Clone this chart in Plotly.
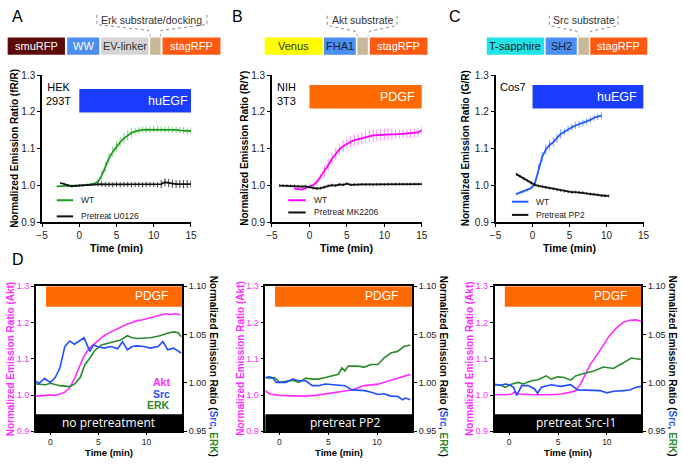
import plotly.graph_objects as go

W, H = 683, 464
def px(x): return x / W
def py(y): return 1 - y / H

FONT = "Liberation Sans, Arial, Helvetica, sans-serif"
BARFONT = "Open Sans, DejaVu Sans, sans-serif"

# ---------------- DATA ----------------
# Panel A (Erk sensor, HEK293T, huEGF)
A_wt_t = [-3, -2.5, -2, -1.5, -1, -0.5, 0, 0.5, 1, 1.5, 2, 2.5, 3, 3.5, 4, 4.5, 5, 5.5, 6, 6.5,
          7, 7.5, 8, 8.5, 9, 9.5, 10, 10.5, 11, 11.5, 12, 12.5, 13, 13.5, 14, 14.5, 15]
A_wt_y = [0.998, 0.999, 1.0, 1.0, 1.0, 1.0, 1.0, 1.001, 1.002, 1.003, 1.005, 1.01, 1.027, 1.05,
          1.075, 1.092, 1.106, 1.118, 1.128, 1.136, 1.143, 1.147, 1.15, 1.151, 1.152, 1.152, 1.153,
          1.153, 1.152, 1.152, 1.152, 1.151, 1.151, 1.15, 1.15, 1.149, 1.148]
A_wt_err = [0.002, 0.002, 0.002, 0.002, 0.002, 0.002, 0.002, 0.002, 0.002, 0.002, 0.004, 0.008,
            0.014, 0.014, 0.014, 0.014, 0.014, 0.014, 0.014, 0.014, 0.014, 0.009, 0.009, 0.009,
            0.009, 0.009, 0.009, 0.009, 0.009, 0.009, 0.009, 0.009, 0.009, 0.009, 0.009, 0.009, 0.009]
A_inh_t = [-2.5, -2, -1.5, -1, -0.5, 0, 0.5, 1, 1.5, 2, 2.5, 3, 3.5, 4, 4.5, 5, 5.5, 6, 6.5, 7,
           7.5, 8, 8.5, 9, 9.5, 10, 10.5, 11, 11.5, 12, 12.5, 13, 13.5, 14, 14.5, 15]
A_inh_y = [1.007, 1.004, 1.0, 0.998, 0.999, 1.0, 1.001, 1.002, 1.003, 1.004, 1.005, 1.004, 1.003,
           1.003, 1.002, 1.003, 1.002, 1.003, 1.003, 1.002, 1.003, 1.003, 1.002, 1.003, 1.003,
           1.003, 1.002, 1.004, 1.009, 1.007, 1.005, 1.004, 1.004, 1.004, 1.004, 1.004]
A_inh_err = [0.003, 0.003, 0.003, 0.003, 0.003, 0.003, 0.003, 0.003, 0.003, 0.003, 0.007, 0.007,
             0.007, 0.007, 0.007, 0.007, 0.007, 0.007, 0.007, 0.007, 0.007, 0.007, 0.007, 0.007,
             0.007, 0.007, 0.007, 0.011, 0.011, 0.011, 0.011, 0.011, 0.011, 0.011, 0.011, 0.011]

# Panel B (Akt sensor, NIH3T3, PDGF)
B_wt_t = [-2, -1.5, -1, -0.5, 0, 0.5, 1, 1.5, 2, 2.5, 3, 3.5, 4, 4.5, 5, 5.5, 6, 6.5, 7, 7.5,
          8, 8.5, 9, 9.5, 10, 10.5, 11, 11.5, 12, 12.5, 13, 13.5, 14, 14.5, 15]
B_wt_y = [0.992, 0.991, 0.989, 0.993, 0.996, 1.001, 1.01, 1.024, 1.038, 1.055, 1.072, 1.086,
          1.098, 1.107, 1.114, 1.119, 1.123, 1.126, 1.129, 1.132, 1.134, 1.136, 1.137, 1.138,
          1.139, 1.139, 1.139, 1.139, 1.14, 1.14, 1.14, 1.141, 1.142, 1.144, 1.15]
B_wt_err = [0.003, 0.003, 0.003, 0.003, 0.003, 0.003, 0.008, 0.008, 0.016, 0.016, 0.016, 0.016,
            0.016, 0.016, 0.016, 0.016, 0.016, 0.016, 0.016, 0.016, 0.016, 0.016, 0.016, 0.016,
            0.016, 0.016, 0.016, 0.012, 0.012, 0.012, 0.012, 0.012, 0.012, 0.012, 0.012]
B_inh_t = [-4, -3.5, -3, -2.5, -2, -1.5, -1, -0.5, 0, 0.5, 1, 1.5, 2, 2.5, 3, 3.5, 4, 4.5, 5,
           5.5, 6, 6.5, 7, 7.5, 8, 8.5, 9, 9.5, 10, 10.5, 11, 11.5, 12, 12.5, 13, 13.5, 14, 14.5, 15]
B_inh_y = [1.0, 1.0, 1.0, 0.999, 0.999, 0.998, 0.997, 0.998, 0.996, 0.993, 0.992, 0.993, 0.996,
           1.0, 1.001, 1.0, 1.003, 1.002, 1.005, 1.002, 1.003, 1.002, 1.003, 1.003, 1.003, 1.002,
           1.003, 1.003, 1.003, 1.004, 1.004, 1.004, 1.004, 1.004, 1.004, 1.004, 1.004, 1.004, 1.004]
B_inh_err = [0.004, 0.004, 0.004, 0.004, 0.004, 0.004, 0.004, 0.004, 0.004, 0.004, 0.004, 0.004,
             0.004, 0.004, 0.004, 0.004, 0.004, 0.004, 0.004, 0.004, 0.004, 0.004, 0.004, 0.004,
             0.004, 0.004, 0.004, 0.004, 0.004, 0.004, 0.004, 0.004, 0.004, 0.004, 0.004, 0.004,
             0.004, 0.004, 0.004]

# Panel C (Src sensor, Cos7, huEGF)
C_wt_t = [-2.2, -1.7, -1.2, -0.7, -0.2, 0.3, 0.8, 1.3, 1.8, 2.3, 2.8, 3.3, 3.8, 4.3, 4.8, 5.3,
          5.8, 6.3, 6.8, 7.3, 7.8, 8.3, 8.8, 9.3]
C_wt_y = [0.977, 0.981, 0.984, 0.988, 0.993, 1.005, 1.045, 1.078, 1.098, 1.11, 1.118, 1.128,
          1.14, 1.146, 1.153, 1.158, 1.163, 1.166, 1.17, 1.174, 1.178, 1.184, 1.187, 1.19]
C_wt_err = [0.004, 0.004, 0.004, 0.004, 0.004, 0.006, 0.013, 0.013, 0.013, 0.013, 0.013, 0.013,
            0.013, 0.009, 0.009, 0.009, 0.009, 0.009, 0.009, 0.009, 0.009, 0.009, 0.009, 0.009]
C_inh_t = [-2.2, -1.7, -1.2, -0.7, -0.2, 0.3, 0.8, 1.3, 1.8, 2.3, 2.8, 3.3, 3.8, 4.3, 4.8, 5.3,
           5.8, 6.3, 6.8, 7.3, 7.8, 8.3, 8.8, 9.3, 9.8, 10.3]
C_inh_y = [1.031, 1.025, 1.019, 1.013, 1.007, 1.002, 0.999, 0.997, 0.995, 0.993, 0.991, 0.989,
           0.987, 0.985, 0.983, 0.982, 0.982, 0.981, 0.981, 0.979, 0.977, 0.976, 0.975, 0.973,
           0.972, 0.972]
C_inh_err = [0.004, 0.004, 0.004, 0.004, 0.004, 0.004, 0.004, 0.004, 0.004, 0.004, 0.004, 0.004,
             0.004, 0.004, 0.004, 0.004, 0.004, 0.004, 0.004, 0.004, 0.004, 0.004, 0.004, 0.004,
             0.004, 0.004]

# Panel D1 (no pretreatment)
D1_akt_t = [-1.5, -1, -0.5, 0, 0.5, 1, 1.5, 2, 2.5, 3, 3.5, 4, 4.5, 5, 5.5, 6, 6.5, 7, 7.5, 8,
            8.5, 9, 9.5, 10, 10.5, 11, 11.5, 12, 12.5, 13, 13.5]
D1_akt_y = [0.997, 0.997, 0.999, 1.0, 0.999, 1.003, 1.008, 1.02, 1.045, 1.077, 1.107, 1.128,
            1.14, 1.152, 1.162, 1.17, 1.177, 1.184, 1.19, 1.196, 1.2, 1.205, 1.207, 1.21, 1.214,
            1.217, 1.219, 1.224, 1.222, 1.224, 1.221]
D1_src_t = [-1.5, -1.2, -0.6, 0, 0.5, 1.0, 1.5, 2.0, 2.5, 3.1, 3.5, 4.1, 4.5, 4.9, 5.6, 6.3, 7.0,
            7.5, 8.0, 8.5, 9.0, 9.7, 10.4, 11.2, 11.7, 12.2, 12.8, 13.6]
D1_src_y = [1.002, 0.9996, 1.0046, 1.0006, 1.0056, 1.0157, 1.0376, 1.0434, 1.04, 1.0444, 1.0467,
            1.0326, 1.0393, 1.0376, 1.036, 1.0376, 1.0353, 1.0427, 1.0343, 1.0376, 1.0383, 1.0376,
            1.036, 1.0376, 1.0427, 1.0343, 1.036, 1.031]
D1_erk_t = [-1.5, -0.5, 0, 1.0, 2.0, 2.5, 3.1, 3.6, 4.1, 4.6, 5.3, 6.0, 6.6, 7.3, 8.0, 8.5, 9.0,
            9.7, 10.4, 10.9, 11.4, 12.1, 12.8, 13.3, 13.6]
D1_erk_y = [0.9989, 0.9982, 0.9996, 0.9972, 0.9962, 0.9989, 1.0056, 1.0191, 1.0258, 1.0333,
            1.0393, 1.041, 1.0427, 1.0444, 1.0488, 1.0467, 1.046, 1.046, 1.0467, 1.0478, 1.0488,
            1.0511, 1.0528, 1.0518, 1.0478]

# Panel D2 (pretreat PP2)
D2_akt_t = [-1.44, -1.0, 0, 1.3, 2.4, 3.7, 4.7, 6.0, 7.4, 8.7, 10.1, 11.4, 12.8, 13.4]
D2_akt_y = [1.012, 1.003, 0.999, 0.997, 0.997, 0.999, 1.003, 1.008, 1.014, 1.026, 1.03, 1.041,
            1.053, 1.057]
D2_src_t = [-1.44, -1.0, -0.67, -0.34, 0.67, 1.34, 2.0, 2.7, 3.36, 4.0, 4.7, 5.7, 6.7, 7.4, 8.05,
            8.7, 9.4, 10.1, 10.7, 11.4, 12.1, 12.6, 12.9, 13.4]
D2_src_y = [1.0056, 1.0063, 1.005, 1.0006, 1.0006, 1.004, 1.0022, 1.0022, 0.9972, 0.9972, 0.9989,
            0.9982, 0.9972, 0.9928, 0.9928, 0.9921, 0.9904, 0.9881, 0.9888, 0.9864, 0.9861,
            0.9827, 0.9844, 0.9827]
D2_erk_t = [-1.44, -1.0, -0.5, 0, 0.67, 1.34, 2.0, 2.7, 3.36, 4.0, 4.7, 5.37, 6.04, 6.4, 6.7,
            7.05, 8.05, 8.7, 9.4, 10.1, 10.7, 11.4, 12.1, 12.75, 13.4]
D2_erk_y = [1.0056, 1.005, 1.0056, 1.0006, 1.0016, 1.0029, 1.0006, 1.005, 1.004, 1.004, 1.0056,
            1.0073, 1.009, 1.0157, 1.0124, 1.0174, 1.0174, 1.0164, 1.0191, 1.0191, 1.0258, 1.0309,
            1.0326, 1.0376, 1.0393]

# Panel D3 (pretreat Src-I1)
D3_akt_t = [-1.5, -0.4, 0.27, 0.6, 0.94, 2.6, 4.3, 5.3, 6.3, 6.8, 7.3, 7.8, 8.3, 9.0, 9.66, 10.3,
            11.0, 11.7, 12.35, 13.0, 13.5]
D3_akt_y = [1.0007, 1.0007, 1.003, 1.009, 1.003, 1.0007, 1.0007, 1.003, 1.008, 1.012, 1.03, 1.057,
            1.084, 1.111, 1.138, 1.165, 1.185, 1.201, 1.206, 1.207, 1.203]
D3_src_t = [-1.5, -0.74, -0.4, 0, 0.44, 0.77, 1.28, 1.95, 2.6, 2.9, 3.3, 4.3, 5.3, 6.3, 7.0, 8.3,
            9.3, 10.0, 10.7, 11.7, 12.35, 13.0, 13.5]
D3_src_y = [0.9979, 0.9979, 0.9989, 0.9982, 0.9955, 0.9871, 0.9972, 0.9972, 0.9938, 0.9894,
            0.9955, 0.9982, 0.9965, 0.9982, 0.9928, 0.9928, 0.9921, 0.9898, 0.9915, 0.9921,
            0.9928, 0.9955, 0.9965]
D3_erk_t = [-1.5, -0.74, -0.4, 0.27, 0.94, 1.44, 2.28, 2.95, 3.8, 4.3, 4.97, 5.64, 6.3, 6.8, 7.65,
            8.66, 9.66, 10.67, 11.7, 12.5, 13.5]
D3_erk_y = [0.9989, 0.9972, 0.9955, 0.9989, 1.0006, 0.9989, 1.0022, 1.0033, 1.0073, 1.004, 1.0063,
            1.0056, 1.0029, 1.0073, 1.0097, 1.0124, 1.0164, 1.015, 1.0208, 1.0258, 1.0242]

# Tick labels
ABC_xticks = [-5, 0, 5, 10, 15]
ABC_yticks = [0.9, 1.0, 1.1, 1.2, 1.3]
D_xticks = [0, 5, 10]
D_left_ticks = [0.9, 1.0, 1.1, 1.2, 1.3]
D_right_ticks = [0.95, 1.00, 1.05, 1.10]

# ---------------- COLOURS ----------------
GREEN = "#1e9e1e"; GREEN_E = "#86d486"
MAG = "#ff00ff"; MAG_E = "#ff8cff"
BLUE = "#1f5cff"; BLUE_E = "#7fa0ff"
BLACK = "#111111"; BLACK_E = "#444444"
D_MAG = "#ff2bff"; D_BLUE = "#1f4dff"; D_GREEN = "#2b8a2b"
EGF_BLUE = "#1a3dff"; PDGF_OR = "#ff6a00"

fig = go.Figure()

def err(arr, col):
    return dict(type="data", array=arr, color=col, thickness=1, width=0)

# Panel A-C traces
fig.add_trace(go.Scatter(x=A_wt_t, y=A_wt_y, xaxis="x", yaxis="y", mode="lines",
                         line=dict(color=GREEN, width=1.8), error_y=err(A_wt_err, GREEN_E), name="WT"))
fig.add_trace(go.Scatter(x=A_inh_t, y=A_inh_y, xaxis="x", yaxis="y", mode="lines",
                         line=dict(color=BLACK, width=1.8), error_y=err(A_inh_err, BLACK_E), name="Pretreat U0126"))
fig.add_trace(go.Scatter(x=B_wt_t, y=B_wt_y, xaxis="x2", yaxis="y2", mode="lines",
                         line=dict(color=MAG, width=1.8), error_y=err(B_wt_err, MAG_E), name="WT"))
fig.add_trace(go.Scatter(x=B_inh_t, y=B_inh_y, xaxis="x2", yaxis="y2", mode="lines",
                         line=dict(color=BLACK, width=1.8), error_y=err(B_inh_err, BLACK_E), name="Pretreat MK2206"))
fig.add_trace(go.Scatter(x=C_wt_t, y=C_wt_y, xaxis="x3", yaxis="y3", mode="lines",
                         line=dict(color=BLUE, width=1.8), error_y=err(C_wt_err, BLUE_E), name="WT"))
fig.add_trace(go.Scatter(x=C_inh_t, y=C_inh_y, xaxis="x3", yaxis="y3", mode="lines",
                         line=dict(color=BLACK, width=1.8), error_y=err(C_inh_err, BLACK_E), name="Pretreat PP2"))

# Panel D traces
D_sets = [
    ("x4", "y4", "y7", D1_akt_t, D1_akt_y, D1_src_t, D1_src_y, D1_erk_t, D1_erk_y),
    ("x5", "y5", "y8", D2_akt_t, D2_akt_y, D2_src_t, D2_src_y, D2_erk_t, D2_erk_y),
    ("x6", "y6", "y9", D3_akt_t, D3_akt_y, D3_src_t, D3_src_y, D3_erk_t, D3_erk_y),
]
for xa, yl, yr, at, ay, st, sy, et, ey in D_sets:
    fig.add_trace(go.Scatter(x=et, y=ey, xaxis=xa, yaxis=yr, mode="lines",
                             line=dict(color=D_GREEN, width=1.6), name="ERK"))
    fig.add_trace(go.Scatter(x=st, y=sy, xaxis=xa, yaxis=yr, mode="lines",
                             line=dict(color=D_BLUE, width=1.6), name="Src"))
    fig.add_trace(go.Scatter(x=at, y=ay, xaxis=xa, yaxis=yl, mode="lines",
                             line=dict(color=D_MAG, width=1.6), name="Akt"))

# ---------------- AXES ----------------
tickfont = dict(family=FONT, size=10, color="#222")
dtickfont = dict(family=FONT, size=9, color="#222")
common = dict(showline=True, linecolor="black", linewidth=1.6, ticks="outside", ticklen=3,
              tickwidth=1.4, tickcolor="black", showgrid=False, zeroline=False, tickfont=tickfont)

ABC = [(36.7, 188.3, [-5, 15]), (270.7, 423.3, [-5, 15]), (498.3, 649.0, [-5, 15])]
for i, (x0, x1, rng) in enumerate(ABC):
    n = "" if i == 0 else str(i + 1)
    fig.update_layout(**{
        "xaxis" + n: dict(common, domain=[px(x0), px(x1)], anchor="y" + n, range=rng,
                          tickvals=ABC_xticks),
        "yaxis" + n: dict(common, domain=[py(222.7), py(71.7)], anchor="x" + n, range=[0.9, 1.3],
                          tickvals=ABC_yticks, tickformat=".1f"),
    })

DD = [(30.5, 179.3, [-1.5, 13.7]), (264.0, 413.3, [-1.44, 13.58]), (497.3, 646.7, [-1.5, 13.53])]
for i, (x0, x1, rng) in enumerate(DD):
    xn, yn, rn = str(4 + i), str(4 + i), str(7 + i)
    fig.update_layout(**{
        "xaxis" + xn: dict(common, domain=[px(x0), px(x1)], anchor="y" + yn, range=rng,
                           tickvals=D_xticks, mirror=True, ticklen=2,
                           tickfont=dict(family=FONT, size=8.5, color="#222")),
        "yaxis" + yn: dict(common, domain=[py(436.7), py(288.0)], anchor="x" + xn, range=[0.9, 1.3],
                           tickvals=D_left_ticks, tickformat=".1f",
                           tickfont=dict(family=FONT, size=9, color=D_MAG)),
        "yaxis" + rn: dict(common, overlaying="y" + yn, anchor="x" + xn, side="right",
                           range=[0.95, 1.10], tickvals=D_right_ticks, tickformat=".2f",
                           tickfont=dtickfont),
    })

shapes = []
annotations = []

def ann(text, x, y, size=10, color="black", xanchor="center", yanchor="middle", angle=0,
        family=FONT, xref="paper", yref="paper"):
    annotations.append(dict(text=text, x=x, y=y, xref=xref, yref=yref, showarrow=False,
                            xanchor=xanchor, yanchor=yanchor, textangle=angle,
                            font=dict(family=family, size=size, color=color)))

# ----- construct diagrams -----
def box(x0, x1, col, label, tcol):
    shapes.append(dict(type="rect", xref="paper", yref="paper", x0=px(x0), x1=px(x1),
                       y0=py(51), y1=py(33.3), fillcolor=col, line=dict(width=0), layer="above"))
    if label:
        ann(label, px((x0 + x1) / 2), py(42.2), size=11, color=tcol)

TAN = "#c9b99b"; STAG = "#ff5a12"; LBLUE = "#4d8ef2"
box(1.7, 60, "#5c0b0b", "smuRFP", "white")
box(62.3, 95, LBLUE, "WW", "white")
box(96.7, 145, "#d4d4d4", "EV-linker", "#333")
box(146.7, 157.3, TAN, "", "")
box(159.3, 218.3, STAG, "stagRFP", "white")

box(263.3, 322.3, "#ffff00", "Venus", "#333")
box(323.7, 356, LBLUE, "FHA1", "#1a1a3a")
box(357.7, 368.3, TAN, "", "")
box(370.3, 429, STAG, "stagRFP", "white")

box(489.3, 547.7, "#22e3e3", "T-sapphire", "#1a1a1a")
box(549.3, 581, LBLUE, "SH2", "#1a1a3a")
box(582.7, 593.3, TAN, "", "")
box(594.7, 652.7, STAG, "stagRFP", "white")

def bracket(pts):
    path = "M " + " L ".join(f"{px(a)},{py(b)}" for a, b in pts)
    shapes.append(dict(type="path", xref="paper", yref="paper", path=path,
                       line=dict(color="#888", width=1, dash="dot")))

bracket([(92.5, 10), (92.5, 20), (145, 26), (147, 32)])
bracket([(204.5, 10), (204.5, 20), (158, 26), (157, 32)])
ann("Erk substrate/docking", px(148.5), py(15.5), size=10.5, color="#333")
bracket([(327, 11), (327, 21), (356, 27), (358, 32)])
bracket([(398, 11), (398, 21), (370, 27), (368.5, 32)])
ann("Akt substrate", px(362.5), py(15.5), size=10.5, color="#333")
bracket([(553, 11), (553, 21), (581, 27), (583, 32)])
bracket([(623, 11), (623, 21), (595, 27), (593.5, 32)])
ann("Src substrate", px(588), py(15.5), size=10.5, color="#333")

# panel letters
ann("A", px(4), py(12), size=16, xanchor="left")
ann("B", px(228), py(12), size=16, xanchor="left")
ann("C", px(449), py(12), size=16, xanchor="left")
ann("D", px(4), py(261), size=16, xanchor="left")

# ----- stimulus bars A-C -----
shapes.append(dict(type="rect", xref="x", yref="y", x0=0, x1=15, y0=1.198, y1=1.262,
                   fillcolor=EGF_BLUE, line=dict(width=0)))
ann("huEGF", 14.8, 1.23, size=12.5, color="white", xanchor="right", xref="x", yref="y")
shapes.append(dict(type="rect", xref="x2", yref="y2", x0=0, x1=15, y0=1.209, y1=1.273,
                   fillcolor=PDGF_OR, line=dict(width=0)))
ann("PDGF", 14.3, 1.241, size=12.5, color="white", xanchor="right", xref="x2", yref="y2")
shapes.append(dict(type="rect", xref="x3", yref="y3", x0=0, x1=15, y0=1.209, y1=1.273,
                   fillcolor=EGF_BLUE, line=dict(width=0)))
ann("huEGF", 14.4, 1.241, size=12.5, color="white", xanchor="right", xref="x3", yref="y3")

# cell line labels
ann("HEK<br>293T", px(38.5), py(76), size=11, xanchor="left", yanchor="top")
ann("NIH<br>3T3", px(274), py(76), size=11, xanchor="left", yanchor="top")
ann("Cos7", px(501), py(76), size=11, xanchor="left", yanchor="top")

# manual legends A-C
def leg(x0, x1, y, col, text):
    shapes.append(dict(type="line", xref="paper", yref="paper", x0=px(x0), x1=px(x1),
                       y0=py(y), y1=py(y), line=dict(color=col, width=2)))
    ann(text, px(x1 + 6), py(y), size=8.5, color="#222", xanchor="left")

leg(51.7, 68.3, 200, GREEN, "WT")
leg(51.7, 68.3, 216.5, BLACK, "Pretreat U0126")
leg(287.3, 305, 200, MAG, "WT")
leg(287.3, 305, 212.5, BLACK, "Pretreat MK2206")
leg(515, 531.7, 201.5, BLUE, "WT")
leg(515, 531.7, 215, BLACK, "Pretreat PP2")

# axis titles A-C
ytitles = [("Normalized Emission Ratio (fR/R)", 8.5), ("Normalized Emission Ratio (R/Y)", 242.5),
           ("Normalized Emission Ratio (G/R)", 468)]
for (t, xx), (x0, x1, _) in zip(ytitles, ABC):
    ann("<b>" + t + "</b>", px(xx), py(147), size=10, angle=-90)
    ann("<b>Time (min)</b>", px((x0 + x1) / 2), py(249), size=10.5)

# ----- panel D decorations -----
D_labels = ["no pretreatment", "pretreat PP2", "pretreat Src-I1"]
D_text_cx = [104, 345, 580.5]
for i, ((x0, x1, rng), lab, cx) in enumerate(zip(DD, D_labels, D_text_cx)):
    xa, ya = "x" + str(4 + i), "y" + str(4 + i)
    shapes.append(dict(type="rect", xref=xa, yref=ya, x0=-0.45, x1=rng[1], y0=1.2435, y1=1.3,
                       fillcolor=PDGF_OR, line=dict(width=0)))
    shapes.append(dict(type="rect", xref=xa + " domain", yref=ya, x0=0, x1=1, y0=0.9, y1=0.947,
                       fillcolor="black", line=dict(width=0)))
    ann("PDGF", px(x1 - 12.5), py(298.5), size=12, color="white", xanchor="right")
    ann(lab, px(cx), py(428), size=12, color="white", family=BARFONT)
    ann("<b>Time (min)</b>", px((x0 + x1) / 2), py(458), size=9.5)
    ann("<b>Normalized Emission Ratio (Akt)</b>", px(x0 - 25), py(362.5), size=10,
        color=D_MAG, angle=-90)
    ann("<b>Normalized Emission Ratio (<span style='color:%s'>Src</span>, "
        "<span style='color:%s'>ERK</span>)</b>" % (D_BLUE, D_GREEN),
        px(x1 + 32), py(370), size=10, angle=90)

ann("<b>Akt</b>", px(168.5), py(386.5), size=10.5, color=D_MAG, xanchor="right")
ann("<b>Src</b>", px(168.5), py(398), size=10.5, color=D_BLUE, xanchor="right")
ann("<b>ERK</b>", px(168.5), py(409.5), size=10.5, color=D_GREEN, xanchor="right")

fig.update_layout(width=W, height=H, autosize=False, margin=dict(l=0, r=0, t=0, b=0),
                  paper_bgcolor="white", plot_bgcolor="white", showlegend=False,
                  font=dict(family=FONT, size=10, color="black"),
                  shapes=shapes, annotations=annotations)

fig.write_html("out.html", config={"displayModeBar": False},
               post_script="document.body.style.margin='0';document.body.style.padding='0';"
                           "document.body.style.overflow='hidden';")
